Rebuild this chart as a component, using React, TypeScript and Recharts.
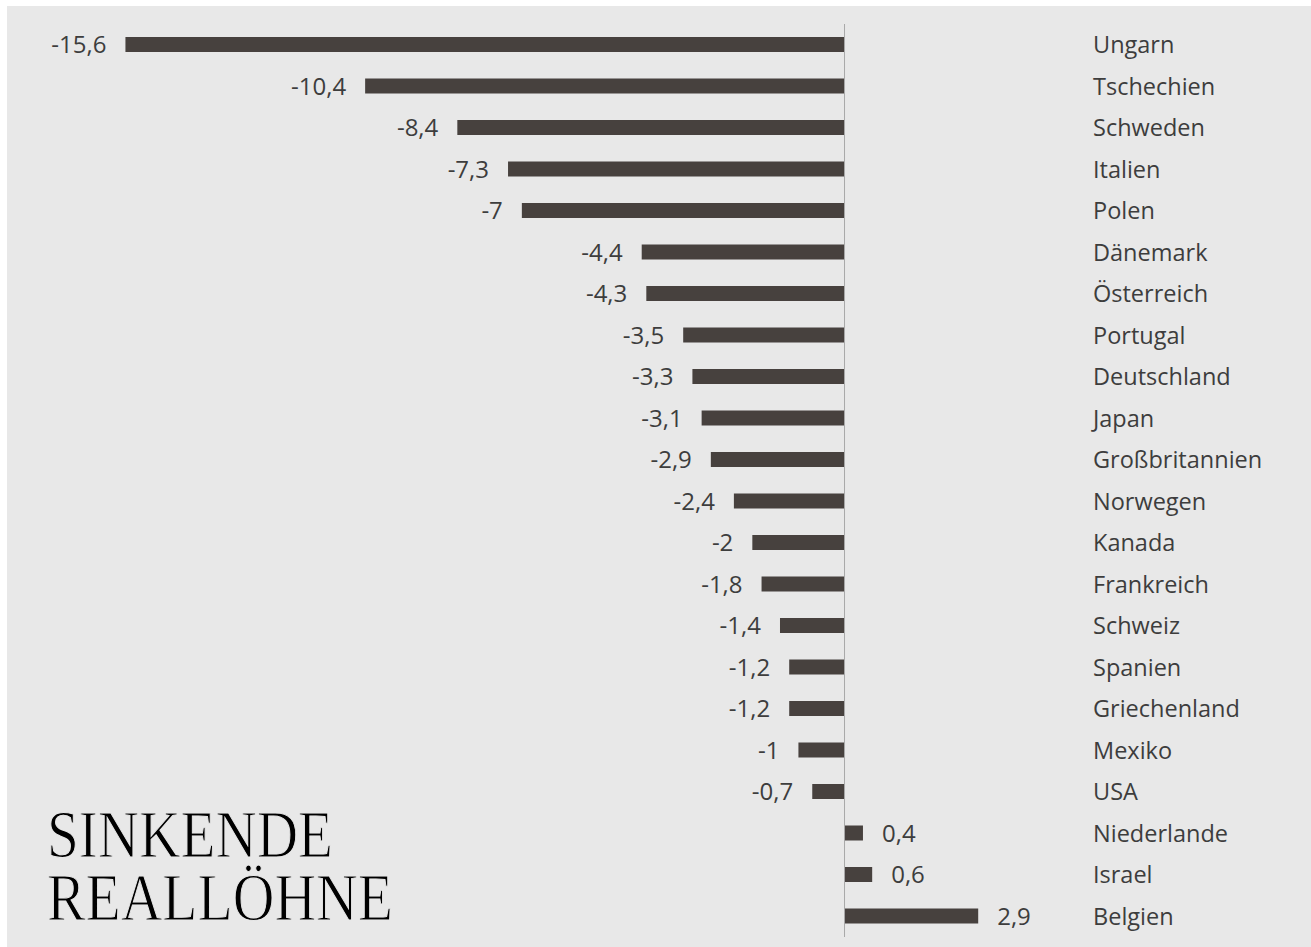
import { BarChart, Bar, XAxis, YAxis, ReferenceLine, LabelList } from "recharts";

// Veränderung der Reallöhne in Prozent
const countries = [
  "Ungarn", "Tschechien", "Schweden", "Italien", "Polen", "Dänemark", "Österreich",
  "Portugal", "Deutschland", "Japan", "Großbritannien", "Norwegen", "Kanada",
  "Frankreich", "Schweiz", "Spanien", "Griechenland", "Mexiko", "USA",
  "Niederlande", "Israel", "Belgien",
];
const changes = [
  -15.6, -10.4, -8.4, -7.3, -7, -4.4, -4.3, -3.5, -3.3, -3.1, -2.9, -2.4, -2,
  -1.8, -1.4, -1.2, -1.2, -1, -0.7, 0.4, 0.6, 2.9,
];
const titleLines = ["SINKENDE", "REALLÖHNE"];

const data = countries.map((name, i) => ({ name, value: changes[i] }));

const W = 1304;
const H = 941;
const FONT = "'Open Sans', sans-serif";
const TEXT = "#3d3d3d";
const BG = "#e8e8e8";

const fmt = (v: number) => String(v).replace(".", ",");

const ValueLabel = (props: any) => {
  const { x, y, width, height, value } = props;
  const left = Math.min(x, x + width);
  const right = Math.max(x, x + width);
  const neg = value < 0;
  return (
    <text
      x={neg ? left - 19 : right + 19}
      y={y + height / 2}
      dy="0.36em"
      textAnchor={neg ? "end" : "start"}
      fill={TEXT}
      fontSize={24}
      fontFamily={FONT}
    >
      {fmt(value)}
    </text>
  );
};

export default function App() {
  const sy = 1.19;
  return (
    <div
      style={{
        position: "absolute",
        left: 7,
        top: 6,
        width: W,
        height: H,
        background: BG,
      }}
    >
      <BarChart
        width={W}
        height={H}
        data={data}
        layout="vertical"
        margin={{ top: 18, right: 0, left: 100, bottom: 10 }}
        barCategoryGap={0}
      >
        <XAxis type="number" domain={[-16, 5]} hide />
        <YAxis
          type="category"
          dataKey="name"
          orientation="right"
          width={236}
          axisLine={false}
          tickLine={false}
          tickSize={0}
          tickMargin={18}
          interval={0}
          tick={{ fill: TEXT, fontSize: 23.5, fontFamily: FONT, textAnchor: "start" }}
        />
        <ReferenceLine x={0} stroke="#a8a8a8" strokeWidth={1} />
        <Bar dataKey="value" fill="#47413e" barSize={15} isAnimationActive={false}>
          <LabelList dataKey="value" content={<ValueLabel />} />
        </Bar>
      </BarChart>
      <svg
        width={420}
        height={148}
        style={{ position: "absolute", left: 0, top: 790 }}
      >
        <g transform={`scale(1, ${sy})`}>
          <text
            fontFamily="'Liberation Serif', serif"
            fontSize={57}
            fill="#000"
            stroke={BG}
            strokeWidth={0.9}
          >
            {titleLines.map((t, i) => (
              <tspan
                key={t}
                x={40}
                y={(61 + i * 63) / sy}
                textLength={i === 0 ? 286 : 346}
                lengthAdjust="spacingAndGlyphs"
              >
                {t}
              </tspan>
            ))}
          </text>
        </g>
      </svg>
    </div>
  );
}
